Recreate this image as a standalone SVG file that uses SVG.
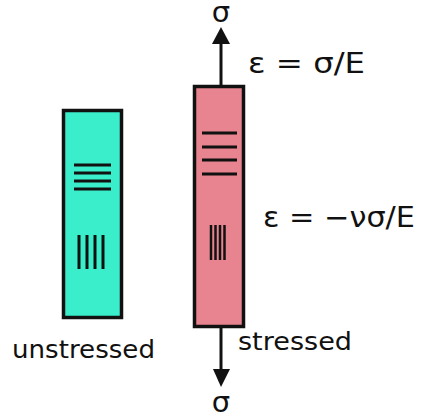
<svg xmlns="http://www.w3.org/2000/svg" width="429" height="416" viewBox="0 0 429 416">
<defs>
<style>
.bar{stroke:#111;stroke-width:3.5}
.mark{stroke:#111;stroke-width:3;fill:none}
.markv{stroke:#111;stroke-width:2.5;fill:none}
.t{font-family:"DejaVu Sans","Liberation Sans",sans-serif;fill:#111}
.conn{stroke:#111;stroke-width:3;fill:none}
</style>
</defs>
<rect width="429" height="416" fill="#fff"/>
<g id="unstressed">
<rect class="bar" x="63.5" y="110.5" width="58" height="207" fill="#3AEECB"/>
<path class="mark" d="M74 165H111M74 173H111M74 181H111M74 189H111"/>
<path class="mark" d="M79 235V269M87 235V269M95 235V269M103 235V269"/>
<text class="t" x="12" y="358" font-size="25" textLength="143" lengthAdjust="spacingAndGlyphs">unstressed</text>
</g>
<g id="stressed">
<rect class="bar" x="194.5" y="86.5" width="49" height="240" fill="#E7848F"/>
<path class="mark" d="M202 133H237M202 147H237M202 160H237M202 174H237"/>
<path class="markv" d="M211 225V260M215.5 225V260M220 225V260M224.5 225V260"/>
<text class="t" x="238" y="350" font-size="25" textLength="114" lengthAdjust="spacingAndGlyphs">stressed</text>
</g>
<g id="connectors">
<path class="conn" d="M221 85V40"/>
<path d="M212 44L221 27L230 44Z" fill="#111"/>
<path class="conn" d="M221 328V372"/>
<path d="M213 369L221 387L230 369Z" fill="#111"/>
</g>
<g id="labels">
<text class="t" x="221" y="22" font-size="29" text-anchor="middle">σ</text>
<text class="t" x="221" y="412" font-size="29" text-anchor="middle">σ</text>
<text class="t" x="248" y="73" font-size="28" textLength="117" lengthAdjust="spacingAndGlyphs">ε = σ/E</text>
<text class="t" x="263" y="227" font-size="28" textLength="152" lengthAdjust="spacingAndGlyphs">ε = −νσ/E</text>
</g>
</svg>
